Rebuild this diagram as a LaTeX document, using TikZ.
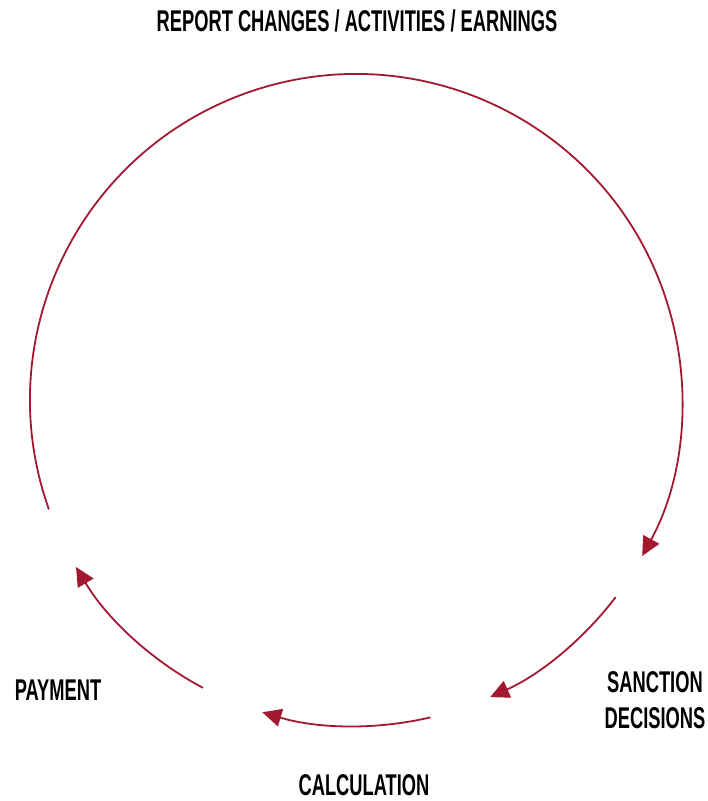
\documentclass[tikz,border=0pt]{standalone}
\usepackage{fontspec}
\setmainfont{Liberation Sans}[FakeStretch=0.61]
\usetikzlibrary{arrows.meta}
\definecolor{cyclered}{HTML}{A3192F}
\tikzset{
  lbl/.style={font=\fontsize{30}{36}\selectfont\bfseries, text=black, align=center, inner sep=0pt},
  cyc/.style={draw=cyclered, line width=1.8pt, -{Triangle[length=19pt,width=18pt]}}
}
\begin{document}
\begin{tikzpicture}[x=1pt,y=1pt]
\useasboundingbox (0,0) rectangle (708,-801);
\coordinate (c) at (356,-400);
\def\R{326}
\draw[cyc] ([shift={(199.6:\R)}]c) arc[start angle=199.6, end angle=-28.6, radius=\R];
\draw[cyc] ([shift={(-37.2:\R)}]c) arc[start angle=-37.2, end angle=-65.7, radius=\R];
\draw[cyc] ([shift={(-76.8:\R)}]c) arc[start angle=-76.8, end angle=-106.7, radius=\R];
\draw[cyc] ([shift={(-118:\R)}]c) arc[start angle=-118, end angle=-149.2, radius=\R];
\node[lbl] (report) at (357,-21) {REPORT CHANGES / ACTIVITIES / EARNINGS};
\node[lbl] (sanction) at (655,-700) {SANCTION\\DECISIONS};
\node[lbl] (payment) at (58,-690) {PAYMENT};
\node[lbl] (calc) at (364,-785) {CALCULATION};
\end{tikzpicture}
\end{document}
